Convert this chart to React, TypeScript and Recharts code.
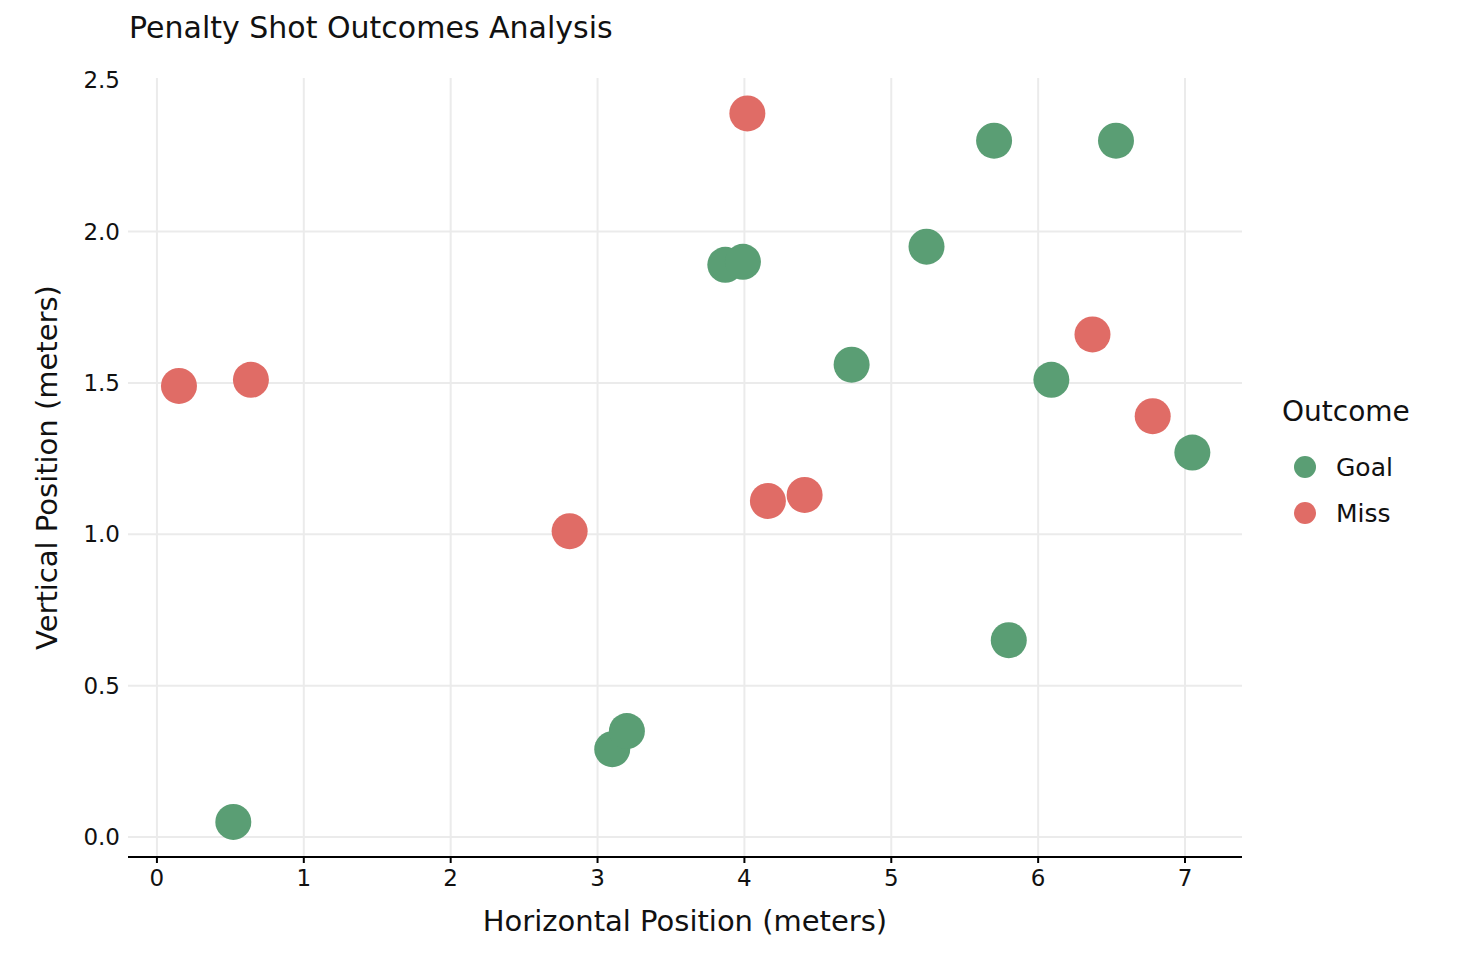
import React from 'react';
import {
    ScatterChart,
    Scatter,
    XAxis,
    YAxis,
    CartesianGrid
} from 'recharts';

// Valores
const goalShots = [
    { x: 0.52, y: 0.05 },
    { x: 3.10, y: 0.29 },
    { x: 3.20, y: 0.35 },
    { x: 3.87, y: 1.89 },
    { x: 3.99, y: 1.90 },
    { x: 4.73, y: 1.56 },
    { x: 5.24, y: 1.95 },
    { x: 5.70, y: 2.30 },
    { x: 5.80, y: 0.65 },
    { x: 6.09, y: 1.51 },
    { x: 6.53, y: 2.30 },
    { x: 7.05, y: 1.27 }
];

const missShots = [
    { x: 0.15, y: 1.49 },
    { x: 0.64, y: 1.51 },
    { x: 2.81, y: 1.01 },
    { x: 4.02, y: 2.39 },
    { x: 4.16, y: 1.11 },
    { x: 4.41, y: 1.13 },
    { x: 6.37, y: 1.66 },
    { x: 6.78, y: 1.39 }
];

const xTicks = [0, 1, 2, 3, 4, 5, 6, 7];
const yTicks = [0, 0.5, 1, 1.5, 2, 2.5];
const yGridValues = [0, 0.5, 1, 1.5, 2];

const GOAL_COLOR = '#5a9e74';
const MISS_COLOR = '#e06c66';
const FONT = '"DejaVu Sans", sans-serif';

const legendItems = [
    { name: 'Goal', color: GOAL_COLOR },
    { name: 'Miss', color: MISS_COLOR }
];

const dot = (color: string) => (props: any) => (
    <circle cx={props.cx} cy={props.cy} r={18} fill={color} />
);

const OutcomeLegend = () => (
    <div style={{ position: 'absolute', left: 1282, top: 395, fontFamily: FONT, color: '#111' }}>
        <div style={{ fontSize: 28, lineHeight: '34px', marginBottom: 15 }}>Outcome</div>
        {legendItems.map((item) => (
            <div key={item.name} style={{ display: 'flex', alignItems: 'center', height: 46 }}>
                <svg width={44} height={24}>
                    <circle cx={23} cy={12} r={11} fill={item.color} />
                </svg>
                <span style={{ fontSize: 25, marginLeft: 10 }}>{item.name}</span>
            </div>
        ))}
    </div>
);

export default function App() {
    return (
        <div style={{ position: 'absolute', left: 0, top: 0, width: 1474, height: 968, background: '#fff' }}>
            <div
                style={{
                    position: 'absolute',
                    left: 129,
                    top: 10,
                    fontFamily: FONT,
                    fontSize: 30,
                    lineHeight: '36px',
                    color: '#111'
                }}
            >
                Penalty Shot Outcomes Analysis
            </div>
            <ScatterChart
                width={1474}
                height={968}
                margin={{ top: 78, right: 232, bottom: 0, left: 68 }}
                style={{ fontFamily: FONT }}
            >
                <CartesianGrid
                    stroke="#ebebeb"
                    strokeWidth={2}
                    verticalValues={xTicks}
                    horizontalValues={yGridValues}
                />
                <XAxis
                    type="number"
                    dataKey="x"
                    domain={[-0.197, 7.388]}
                    ticks={xTicks}
                    allowDataOverflow
                    interval={0}
                    axisLine={{ stroke: '#000', strokeWidth: 2 }}
                    tickLine={{ stroke: '#000', strokeWidth: 2 }}
                    tickSize={6}
                    tickMargin={7}
                    tick={{ fill: '#111', fontSize: 23 }}
                    height={111}
                    label={{
                        value: 'Horizontal Position (meters)',
                        position: 'insideTop',
                        offset: 53,
                        style: { fill: '#111', fontSize: 29 }
                    }}
                />
                <YAxis
                    type="number"
                    dataKey="y"
                    domain={[-0.066, 2.507]}
                    ticks={yTicks}
                    allowDataOverflow
                    interval={0}
                    axisLine={false}
                    tickLine={false}
                    tickSize={0}
                    tickMargin={8}
                    width={60}
                    tick={{ fill: '#111', fontSize: 23 }}
                    tickFormatter={(v: number) => v.toFixed(1)}
                    label={{
                        value: 'Vertical Position (meters)',
                        angle: -90,
                        position: 'insideLeft',
                        offset: -21,
                        style: { fill: '#111', fontSize: 29, textAnchor: 'middle' }
                    }}
                />
                <Scatter
                    name="Goal"
                    data={goalShots}
                    fill={GOAL_COLOR}
                    shape={dot(GOAL_COLOR)}
                    isAnimationActive={false}
                />
                <Scatter
                    name="Miss"
                    data={missShots}
                    fill={MISS_COLOR}
                    shape={dot(MISS_COLOR)}
                    isAnimationActive={false}
                />
            </ScatterChart>
            <OutcomeLegend />
        </div>
    );
}
